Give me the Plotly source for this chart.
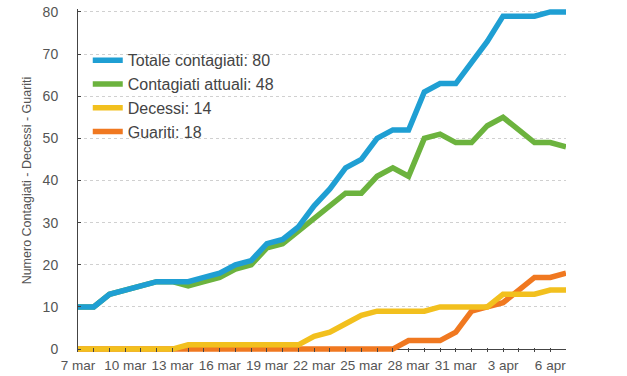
import plotly.graph_objects as go

dates = ["2020-03-07", "2020-03-08", "2020-03-09", "2020-03-10", "2020-03-11", "2020-03-12",
         "2020-03-13", "2020-03-14", "2020-03-15", "2020-03-16", "2020-03-17", "2020-03-18",
         "2020-03-19", "2020-03-20", "2020-03-21", "2020-03-22", "2020-03-23", "2020-03-24",
         "2020-03-25", "2020-03-26", "2020-03-27", "2020-03-28", "2020-03-29", "2020-03-30",
         "2020-03-31", "2020-04-01", "2020-04-02", "2020-04-03", "2020-04-04", "2020-04-05",
         "2020-04-06", "2020-04-07"]

totale = [10, 10, 13, 14, 15, 16, 16, 16, 17, 18, 20, 21, 25, 26, 29, 34,
          38, 43, 45, 50, 52, 52, 61, 63, 63, 68, 73, 79, 79, 79, 80, 80]
attuali = [10, 10, 13, 14, 15, 16, 16, 15, 16, 17, 19, 20, 24, 25, 28, 31,
           34, 37, 37, 41, 43, 41, 50, 51, 49, 49, 53, 55, 52, 49, 49, 48]
decessi = [0, 0, 0, 0, 0, 0, 0, 1, 1, 1, 1, 1, 1, 1, 1, 3,
           4, 6, 8, 9, 9, 9, 9, 10, 10, 10, 10, 13, 13, 13, 14, 14]
guariti = [0, 0, 0, 0, 0, 0, 0, 0, 0, 0, 0, 0, 0, 0, 0, 0,
           0, 0, 0, 0, 0, 2, 2, 2, 4, 9, 10, 11, 14, 17, 17, 18]

tick_dates = ["2020-03-07", "2020-03-10", "2020-03-13", "2020-03-16", "2020-03-19", "2020-03-22",
              "2020-03-25", "2020-03-28", "2020-03-31", "2020-04-03", "2020-04-06"]
tick_labels = ["7 mar", "10 mar", "13 mar", "16 mar", "19 mar", "22 mar",
               "25 mar", "28 mar", "31 mar", "3 apr", "6 apr"]

series_names = ["Totale contagiati: 80", "Contagiati attuali: 48", "Decessi: 14", "Guariti: 18"]
series_values = [totale, attuali, decessi, guariti]
series_colors = ["#1f9fd3", "#6cb33e", "#f2c01e", "#f07820"]

fig = go.Figure()
# draw in reverse order so the blue line is on top; legendrank keeps legend order
for rank in reversed(range(4)):
    fig.add_trace(go.Scatter(x=dates, y=series_values[rank], name=series_names[rank], mode="lines",
                             line=dict(color=series_colors[rank], width=5.5),
                             legendrank=rank + 1))

font_family = "Liberation Sans, Arial, sans-serif"
fig.update_layout(
    width=627, height=376,
    margin=dict(l=78, r=61, t=9, b=24),
    paper_bgcolor="white", plot_bgcolor="white",
    font=dict(family=font_family, color="#555555", size=13),
    showlegend=True,
    legend=dict(x=0.02, y=0.9, xanchor="left", yanchor="top",
                font=dict(size=16, color="#444444"), bgcolor="rgba(0,0,0,0)",
                traceorder="normal"),
)
fig.update_xaxes(
    type="date", range=[dates[0], dates[-1]], automargin=False,
    tickvals=tick_dates, ticktext=tick_labels,
    ticks="inside", ticklen=4, tickcolor="#444444",
    showgrid=False, showline=False, zeroline=False,
    ticklabelstandoff=3,
    tickfont=dict(size=13.5, color="#555555"),
    minor=dict(dtick=86400000, ticks="inside", ticklen=4, tickcolor="#444444", showgrid=False),
)
fig.update_yaxes(
    range=[-0.7, 80.7], tickvals=[0, 10, 20, 30, 40, 50, 60, 70, 80], automargin=False,
    showgrid=True, gridcolor="#d0d0d0", griddash="dot", gridwidth=1,
    zeroline=True, zerolinecolor="#444444", zerolinewidth=1,
    showline=True, linecolor="#444444", linewidth=1,
    ticks="inside", ticklen=3, tickcolor="#444444",
    ticklabelstandoff=16,
    tickfont=dict(size=14, color="#555555"),
    title=dict(text="Numero Contagiati - Decessi - Guariti", font=dict(size=12.5, color="#555555"), standoff=8),
)
fig.write_html("out.html", config={"displayModeBar": False},
               post_script="document.body.style.margin='0px';")
